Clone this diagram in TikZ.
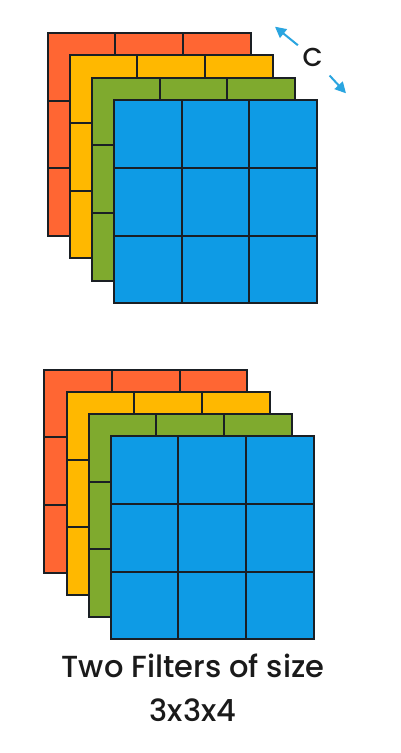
\documentclass[tikz,border=0pt]{standalone}
\usepackage{fontspec}
\setmainfont{Poppins}[BoldFont={Poppins Medium}]
\usepackage{xcolor}
\usepackage{tikz}
\usetikzlibrary{arrows.meta, positioning, calc}

\definecolor{layerred}{HTML}{FF6633}
\definecolor{layeryellow}{HTML}{FFB800}
\definecolor{layergreen}{HTML}{7FAA2E}
\definecolor{layerblue}{HTML}{0E9BE5}
\definecolor{gridline}{HTML}{1A1F24}
\definecolor{arrowblue}{HTML}{2AA5E0}
\definecolor{textgray}{HTML}{1A1A1A}

\begin{document}
\begin{tikzpicture}[
    x=1pt, y=-1pt,
    >={Triangle[length=11pt, width=11pt]},
    layer/.style={draw=gridline, line width=2pt, minimum size=203pt,
        inner sep=0pt, outer sep=0pt,
        path picture={
            \coordinate (nw) at (path picture bounding box.north west);
            \coordinate (ne) at (path picture bounding box.north east);
            \coordinate (sw) at (path picture bounding box.south west);
            \coordinate (se) at (path picture bounding box.south east);
            \draw[gridline, line width=2pt]
                ($(nw)!1/3!(ne)$) -- ($(sw)!1/3!(se)$)
                ($(nw)!2/3!(ne)$) -- ($(sw)!2/3!(se)$)
                ($(nw)!1/3!(sw)$) -- ($(ne)!1/3!(se)$)
                ($(nw)!2/3!(sw)$) -- ($(ne)!2/3!(se)$);
        }},
    caption/.style={font=\bfseries\fontsize{30.5}{33}\selectfont, text=textgray, anchor=base},
    arrowline/.style={arrowblue, line width=2pt}
]

\fill[white] (0,0) rectangle (400,753);
\useasboundingbox (0,0) rectangle (400,753);

% first filter
\node[layer, fill=layerred]    (r1) at (149.0,134.5) {};
\node[layer, fill=layeryellow] (y1) at (171.2,156.9) {};
\node[layer, fill=layergreen]  (g1) at (193.4,179.3) {};
\node[layer, fill=layerblue]   (b1) at (215.6,201.7) {};

% second filter
\node[layer, fill=layerred]    (r2) at (145.8,471.3) {};
\node[layer, fill=layeryellow] (y2) at (168.0,493.4) {};
\node[layer, fill=layergreen]  (g2) at (190.1,515.5) {};
\node[layer, fill=layerblue]   (b2) at (212.3,537.7) {};

% channel arrows
\node[font=\bfseries\fontsize{26}{28}\selectfont, text=textgray, inner sep=3pt] (chan) at (312.7,57.2) {C};
\coordinate (cup) at (275,26.7);
\coordinate (cdown) at (346,93.3);
\draw[arrowline, <-, shorten >=2pt] (cup) -- (chan);
\draw[arrowline, ->, shorten <=8pt] (chan) -- (cdown);

\node[caption] (title) at (193,677) {Two Filters of size};
\node[caption] (dims) at (193,721) {3x3x4};

\end{tikzpicture}
\end{document}
